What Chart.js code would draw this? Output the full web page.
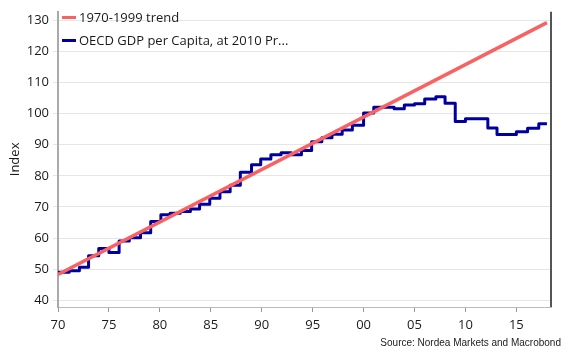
<!DOCTYPE html>
<html><head><meta charset="utf-8">
<script src="https://cdn.jsdelivr.net/npm/chart.js@4"></script>
<style>
html,body{margin:0;padding:0;background:#fff;}
#wrap{position:relative;width:570px;height:360px;}
canvas{position:absolute;left:0;top:0;}
.leg{position:absolute;left:62px;font:13px 'Open Sans';color:#1a1a1a;display:flex;align-items:center;white-space:nowrap;line-height:16px;}
.leg i{display:inline-block;width:14px;height:3px;margin-right:3px;}
#src{position:absolute;right:9px;top:337px;font:10px 'Liberation Sans';color:#222;}
</style></head>
<body>
<div id="wrap">
<canvas id="c" width="570" height="360"></canvas>
<div id="legend"></div>
<div id="src">Source: Nordea Markets and Macrobond</div>
</div>
<script>
const seriesLabels = ['1970-1999 trend', 'OECD GDP per Capita, at 2010 Pr...'];
const trendYears = [1970, 2018];
const trendValues = [48.3, 129.3];
const gdpYears = [1970.0, 1971.1, 1972.1, 1973.0, 1974.0, 1975.0, 1976.0, 1977.0, 1978.1, 1979.1,
  1980.1, 1981.0, 1982.0, 1983.0, 1983.9, 1984.9, 1985.9, 1986.9, 1987.9, 1989.0,
  1989.9, 1990.9, 1991.9, 1992.9, 1993.9, 1994.9, 1995.9, 1996.9, 1997.9, 1998.9,
  2000.0, 2001.0, 2003.0, 2004.0, 2005.0, 2006.0, 2007.1, 2008.0, 2009.0, 2010.0,
  2012.2, 2013.1, 2015.0, 2016.1, 2017.2, 2018.0];
const gdpValues = [49.0, 49.5, 50.6, 54.3, 56.6, 55.3, 59.0, 60.1, 61.7, 65.3,
  67.5, 68.0, 68.5, 69.3, 70.9, 72.8, 74.9, 77.0, 81.2, 83.6,
  85.4, 86.8, 87.4, 86.8, 88.2, 91.0, 92.3, 93.4, 94.8, 96.3,
  100.2, 102.1, 101.6, 102.8, 103.2, 104.7, 105.5, 103.4, 97.5, 98.4,
  95.4, 93.3, 94.2, 95.3, 96.8, 96.8];
const xTickYears = [1970, 1975, 1980, 1985, 1990, 1995, 2000, 2005, 2010, 2015];
const yTickValues = [40, 50, 60, 70, 80, 90, 100, 110, 120, 130];
const colors = ['#f96262', '#0000a0'];

const rightBorder = {
  id: 'rightBorder',
  afterDraw(chart) {
    const a = chart.chartArea, ctx = chart.ctx;
    ctx.save();
    ctx.strokeStyle = '#555';
    ctx.lineWidth = 2;
    ctx.beginPath();
    ctx.moveTo(a.right, a.top);
    ctx.lineTo(a.right, a.bottom);
    ctx.stroke();
    ctx.restore();
  }
};

const chart = new Chart(document.getElementById('c'), {
  type: 'line',
  data: {
    datasets: [
      {
        label: seriesLabels[0],
        data: trendYears.map((x, i) => ({x, y: trendValues[i]})),
        borderColor: colors[0], borderWidth: 3.5, pointRadius: 0, tension: 0
      },
      {
        label: seriesLabels[1],
        data: gdpYears.map((x, i) => ({x, y: gdpValues[i]})),
        borderColor: colors[1], borderWidth: 3, pointRadius: 0, stepped: 'before',
        borderJoinStyle: 'round'
      }
    ]
  },
  options: {
    responsive: false,
    animation: false,
    devicePixelRatio: 1,
    layout: {padding: {top: 7, right: 19, left: 0, bottom: 0}},
    plugins: {legend: {display: false}, tooltip: {enabled: false}},
    scales: {
      x: {
        type: 'linear', min: 1970, max: 2018.4,
        afterBuildTicks: s => { s.ticks = xTickYears.map(v => ({value: v})); },
        afterFit: s => { s.height = 53; },
        ticks: {
          callback: v => String(v % 100).padStart(2, '0'),
          font: {family: 'Open Sans', size: 13}, color: '#1a1a1a', padding: 5, maxRotation: 0
        },
        grid: {drawOnChartArea: false, drawTicks: true, tickLength: 5, color: '#999'},
        border: {color: '#bbb', width: 1}
      },
      y: {
        min: 37.8, max: 132.8,
        afterBuildTicks: s => { s.ticks = yTickValues.map(v => ({value: v})); },
        afterFit: s => { s.width = 58; },
        ticks: {font: {family: 'Open Sans', size: 13}, color: '#1a1a1a', padding: 4},
        grid: {color: '#e6e6e6', tickLength: 5, lineWidth: 1},
        border: {color: '#aaa', width: 2},
        title: {display: true, text: 'Index', font: {family: 'Open Sans', size: 13}, color: '#1a1a1a', padding: {top: 7, bottom: 0}}
      }
    }
  },
  plugins: [rightBorder]
});

const leg = document.getElementById('legend');
const tops = [9, 32];
seriesLabels.forEach((t, i) => {
  const d = document.createElement('div');
  d.className = 'leg';
  d.style.top = tops[i] + 'px';
  const sw = document.createElement('i');
  sw.style.background = colors[i];
  d.appendChild(sw);
  d.appendChild(document.createTextNode(t));
  leg.appendChild(d);
});
</script>
</body></html>
